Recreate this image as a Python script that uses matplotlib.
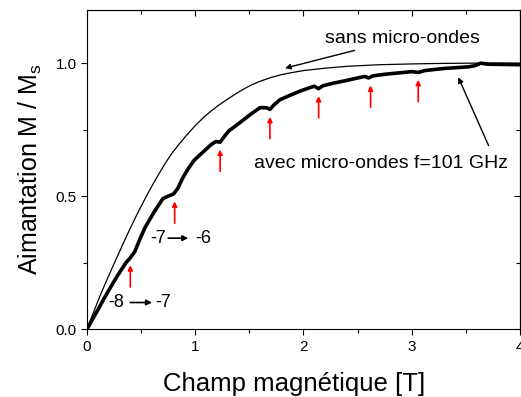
import numpy as np
import matplotlib.pyplot as plt

plt.rcParams['font.family'] = ['Liberation Sans', 'DejaVu Sans']
plt.rcParams['mathtext.fontset'] = 'custom'
plt.rcParams['mathtext.rm'] = 'Liberation Sans'
plt.rcParams['mathtext.it'] = 'Liberation Sans'

# sans micro-ondes (courbe fine)
B_ref = [0, 0.06, 0.12, 0.19, 0.26, 0.33, 0.40, 0.48, 0.555, 0.64, 0.725,
         0.79, 0.85, 0.92, 1.0, 1.08, 1.15, 1.22, 1.3, 1.38, 1.45, 1.52, 1.6,
         1.7, 1.8, 1.9, 2.0, 2.2, 2.4, 2.7, 3.0, 3.3, 3.6, 4.0]
M_ref = [0, 0.063, 0.125, 0.191, 0.255, 0.318, 0.38, 0.446, 0.505, 0.567,
         0.625, 0.664, 0.695, 0.729, 0.765, 0.797, 0.821, 0.843, 0.865, 0.886,
         0.903, 0.918, 0.932, 0.946, 0.957, 0.965, 0.972, 0.981, 0.988, 0.994,
         0.997, 0.999, 1.0, 1.0]

# avec micro-ondes f=101 GHz (courbe epaisse)
B_mw = [0, 0.09, 0.185, 0.28, 0.36, 0.40, 0.44, 0.49, 0.54, 0.62, 0.70, 0.75,
        0.80, 0.84, 0.88, 0.93, 0.99, 1.07, 1.15, 1.19, 1.23, 1.27, 1.31, 1.36,
        1.44, 1.52, 1.60, 1.66, 1.69, 1.72, 1.78, 1.87, 1.97, 2.06, 2.10, 2.14,
        2.18, 2.28, 2.40, 2.52, 2.57, 2.60, 2.64, 2.75, 2.9, 3.0, 3.06, 3.12,
        3.3, 3.52, 3.58, 3.64, 3.7, 3.85, 4.0]
M_mw = [0, 0.065, 0.135, 0.20, 0.25, 0.268, 0.29, 0.34, 0.385, 0.44, 0.49,
        0.50, 0.508, 0.53, 0.565, 0.60, 0.635, 0.665, 0.695, 0.705, 0.703,
        0.725, 0.745, 0.76, 0.785, 0.81, 0.833, 0.832, 0.826, 0.84, 0.862,
        0.878, 0.895, 0.908, 0.913, 0.904, 0.915, 0.925, 0.935, 0.946, 0.95,
        0.944, 0.952, 0.958, 0.964, 0.968, 0.965, 0.972, 0.98, 0.986, 0.99,
        1.0, 0.996, 0.995, 0.994]

# transitions (fleches rouges)
B_steps = [0.40, 0.81, 1.23, 1.69, 2.14, 2.62, 3.06]
M_steps = [0.268, 0.508, 0.703, 0.826, 0.904, 0.944, 0.965]

fig = plt.figure(figsize=(5.21, 3.97), dpi=100)
ax = fig.add_axes([0.167, 0.171, 0.831, 0.804])

ax.plot(B_ref, M_ref, color='black', lw=0.9)
ax.plot(B_mw, M_mw, color='black', lw=2.6, solid_joinstyle='round')

for b, m in zip(B_steps, M_steps):
    ax.annotate('', xy=(b, m - 0.028), xytext=(b, m - 0.11),
                arrowprops=dict(arrowstyle='-|>', color='red', lw=1.2,
                                mutation_scale=7, shrinkA=0, shrinkB=0))

ax.annotate('sans micro-ondes', xy=(1.83, 0.981), xytext=(2.2, 1.094),
            fontsize=14, va='center',
            arrowprops=dict(arrowstyle='-|>', color='black', lw=1,
                            mutation_scale=8, shrinkA=3, shrinkB=0))
ax.annotate('', xy=(3.43, 0.947), xytext=(3.71, 0.69),
            arrowprops=dict(arrowstyle='-|>', color='black', lw=1,
                            mutation_scale=8, shrinkA=0, shrinkB=0))
ax.text(1.54, 0.624, 'avec micro-ondes f=101 GHz', fontsize=14, va='center')

ax.text(0.2, 0.10, '-8', fontsize=13, va='center')
ax.annotate('', xy=(0.6, 0.10), xytext=(0.40, 0.10),
            arrowprops=dict(arrowstyle='-|>', color='black', lw=1.2,
                            mutation_scale=8, shrinkA=0, shrinkB=0))
ax.text(0.63, 0.10, '-7', fontsize=13, va='center')
ax.text(0.58, 0.342, '-7', fontsize=13, va='center')
ax.annotate('', xy=(0.935, 0.342), xytext=(0.75, 0.342),
            arrowprops=dict(arrowstyle='-|>', color='black', lw=1.2,
                            mutation_scale=8, shrinkA=0, shrinkB=0))
ax.text(1.0, 0.342, '-6', fontsize=13, va='center')

ax.set_xlim(0, 4)
ax.set_ylim(0, 1.2)
ax.set_xticks([0, 1, 2, 3, 4])
ax.set_xticks([0.5, 1.5, 2.5, 3.5], minor=True)
ax.set_yticks([0.0, 0.5, 1.0])
ax.set_yticklabels(['0.0', '0.5', '1.0'])
ax.set_yticks([0.25, 0.75], minor=True)
ax.tick_params(which='both', direction='out', labelsize=11, width=0.8)
ax.tick_params(which='major', length=4)
ax.tick_params(which='minor', length=3)
ax.set_xlabel('Champ magnétique [T]', fontsize=18.5, labelpad=11)
ax.xaxis.set_label_coords(0.478, -0.135)
ax.set_ylabel('Aimantation M / M$_{\\rm s}$', fontsize=18, labelpad=8)

# ticks interieurs en haut et a droite
top = ax.secondary_xaxis('top')
top.set_xticks([0, 1, 2, 3, 4])
top.set_xticks([0.5, 1.5, 2.5, 3.5], minor=True)
top.tick_params(which='both', direction='in', labeltop=False, width=0.8)
top.tick_params(which='major', length=4)
top.tick_params(which='minor', length=3)
right = ax.secondary_yaxis('right')
right.set_yticks([0.0, 0.5, 1.0])
right.set_yticks([0.25, 0.75], minor=True)
right.tick_params(which='both', direction='in', labelright=False, width=0.8)
right.tick_params(which='major', length=4)
right.tick_params(which='minor', length=3)

fig.savefig('out.png', dpi=100)
